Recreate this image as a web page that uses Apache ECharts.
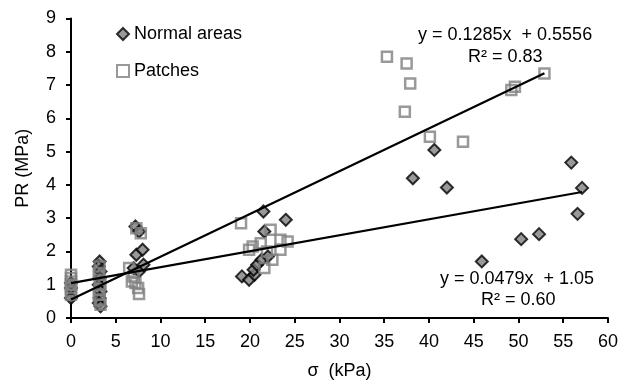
<!DOCTYPE html>
<html>
<head>
<meta charset="utf-8">
<script src="https://cdn.jsdelivr.net/npm/echarts@6/dist/echarts.min.js"></script>
<style>
  html, body { margin: 0; padding: 0; background: #fff; }
  #chart { width: 621px; height: 385px; }
</style>
</head>
<body>
<div id="chart"></div>
<script>
// σ (kPa) vs PR (MPa)
const normalAreas = [
  [0, 0.6], [0, 0.9], [0, 1.05],
  [3.2, 1.7], [3.1, 1.55], [3.3, 1.4], [3.2, 1.2], [3.1, 1.0], [3.3, 0.8], [3.2, 0.6], [3.1, 0.45], [3.3, 0.35],
  [7.2, 2.75], [7.6, 2.6], [7.3, 1.9], [8.0, 2.05], [7.0, 1.5], [7.6, 1.4], [8.1, 1.6],
  [19.1, 1.25], [19.9, 1.15], [20.5, 1.3], [20.4, 1.45], [20.8, 1.6], [21.3, 1.75], [22.0, 1.85],
  [21.6, 2.6], [21.5, 3.2], [24.0, 2.95],
  [38.2, 4.2], [40.6, 5.05], [42.0, 3.92], [45.9, 1.7], [50.3, 2.37], [52.3, 2.52],
  [55.9, 4.67], [56.6, 3.13], [57.1, 3.91]
];
const patches = [
  [0, 0.7], [0, 0.8], [0, 0.9], [0, 1.0], [0, 1.1], [0, 1.2], [0, 1.3],
  [3.2, 1.55], [3.1, 1.35], [3.2, 1.15], [3.3, 1.0], [3.2, 0.85], [3.1, 0.7], [3.2, 0.55], [3.3, 0.4],
  [7.3, 2.7], [7.8, 2.55], [6.5, 1.5], [7.0, 1.25], [7.2, 1.05], [7.5, 0.9], [7.6, 0.72], [6.8, 1.1],
  [19.0, 2.85], [19.9, 2.05], [20.3, 2.15], [21.2, 2.25], [21.9, 2.0], [22.3, 2.65], [22.5, 1.75],
  [23.4, 2.05], [23.4, 2.35], [24.2, 2.3], [21.6, 1.5],
  [35.3, 7.85], [37.5, 7.65], [37.9, 7.05], [37.3, 6.2], [40.1, 5.45], [43.8, 5.3],
  [49.2, 6.85], [49.6, 6.95], [52.9, 7.35]
];
// trendline coefficients [slope, intercept]
const normalFit = [0.0479, 1.05];
const patchFit = [0.1285, 0.5556];
const normalFitLabel = ["y = 0.0479x  + 1.05", "R² = 0.60"];
const patchFitLabel = ["y = 0.1285x  + 0.5556", "R² = 0.83"];

function fitLine(points, fit) {
  const maxX = Math.max(...points.map((p) => p[0]));
  return [[0, fit[1]], [maxX, fit[0] * maxX + fit[1]]];
}

const font = "Liberation Sans, Arial, sans-serif";
const fontSize = 18;
const chart = echarts.init(document.getElementById("chart"), null, { renderer: "canvas" });

function note(text, x, y) {
  return {
    type: "text",
    x: x,
    y: y,
    style: { text: text, fontSize: fontSize, fontFamily: font, fill: "#000", align: "left", verticalAlign: "middle" }
  };
}

chart.setOption({
  animation: false,
  backgroundColor: "#fff",
  grid: { left: 71, right: 10, top: 18.5, bottom: 66.7, containLabel: false },
  legend: {
    orient: "vertical",
    left: 111,
    top: 20,
    itemGap: 19,
    itemWidth: 12,
    itemHeight: 12,
    data: ["Normal areas", "Patches"],
    textStyle: { color: "#000", fontSize: fontSize, fontFamily: font }
  },
  xAxis: {
    type: "value",
    min: 0,
    max: 60,
    interval: 5,
    name: "σ  (kPa)",
    nameLocation: "middle",
    nameGap: 44,
    nameTextStyle: { color: "#000", fontSize: fontSize, fontFamily: font },
    axisLine: { lineStyle: { color: "#000", width: 2 } },
    axisTick: { show: true, length: 5, lineStyle: { color: "#000", width: 2 } },
    axisLabel: { color: "#000", fontSize: fontSize, fontFamily: font, margin: 15 },
    splitLine: { show: false }
  },
  yAxis: {
    type: "value",
    min: 0,
    max: 9,
    interval: 1,
    name: "PR (MPa)",
    nameLocation: "middle",
    nameGap: 39,
    nameTextStyle: { color: "#000", fontSize: fontSize, fontFamily: font },
    axisLine: { show: true, lineStyle: { color: "#000", width: 2 } },
    axisTick: { show: true, length: 5, lineStyle: { color: "#000", width: 2 } },
    axisLabel: { color: "#000", fontSize: fontSize, fontFamily: font, margin: 15 },
    splitLine: { show: false }
  },
  series: [
    {
      name: "Normal areas",
      type: "scatter",
      symbol: "diamond",
      symbolSize: 12,
      data: normalAreas,
      itemStyle: { color: "#808080", borderColor: "#000", borderWidth: 2 },
      z: 2
    },
    {
      name: "Patches",
      type: "scatter",
      symbol: "rect",
      symbolSize: 10,
      data: patches,
      itemStyle: { color: "rgba(255,255,255,0)", borderColor: "#808080", borderWidth: 2.5 },
      z: 3
    },
    {
      name: "normal fit",
      type: "line",
      data: fitLine(normalAreas, normalFit),
      symbol: "none",
      lineStyle: { color: "#000", width: 2.2 },
      z: 4
    },
    {
      name: "patch fit",
      type: "line",
      data: fitLine(patches, patchFit),
      symbol: "none",
      lineStyle: { color: "#000", width: 2.2 },
      z: 4
    }
  ],
  graphic: [
    note(patchFitLabel[0], 418, 35),
    note(patchFitLabel[1], 468, 57),
    note(normalFitLabel[0], 440, 279),
    note(normalFitLabel[1], 481, 300)
  ]
});
</script>
</body>
</html>
